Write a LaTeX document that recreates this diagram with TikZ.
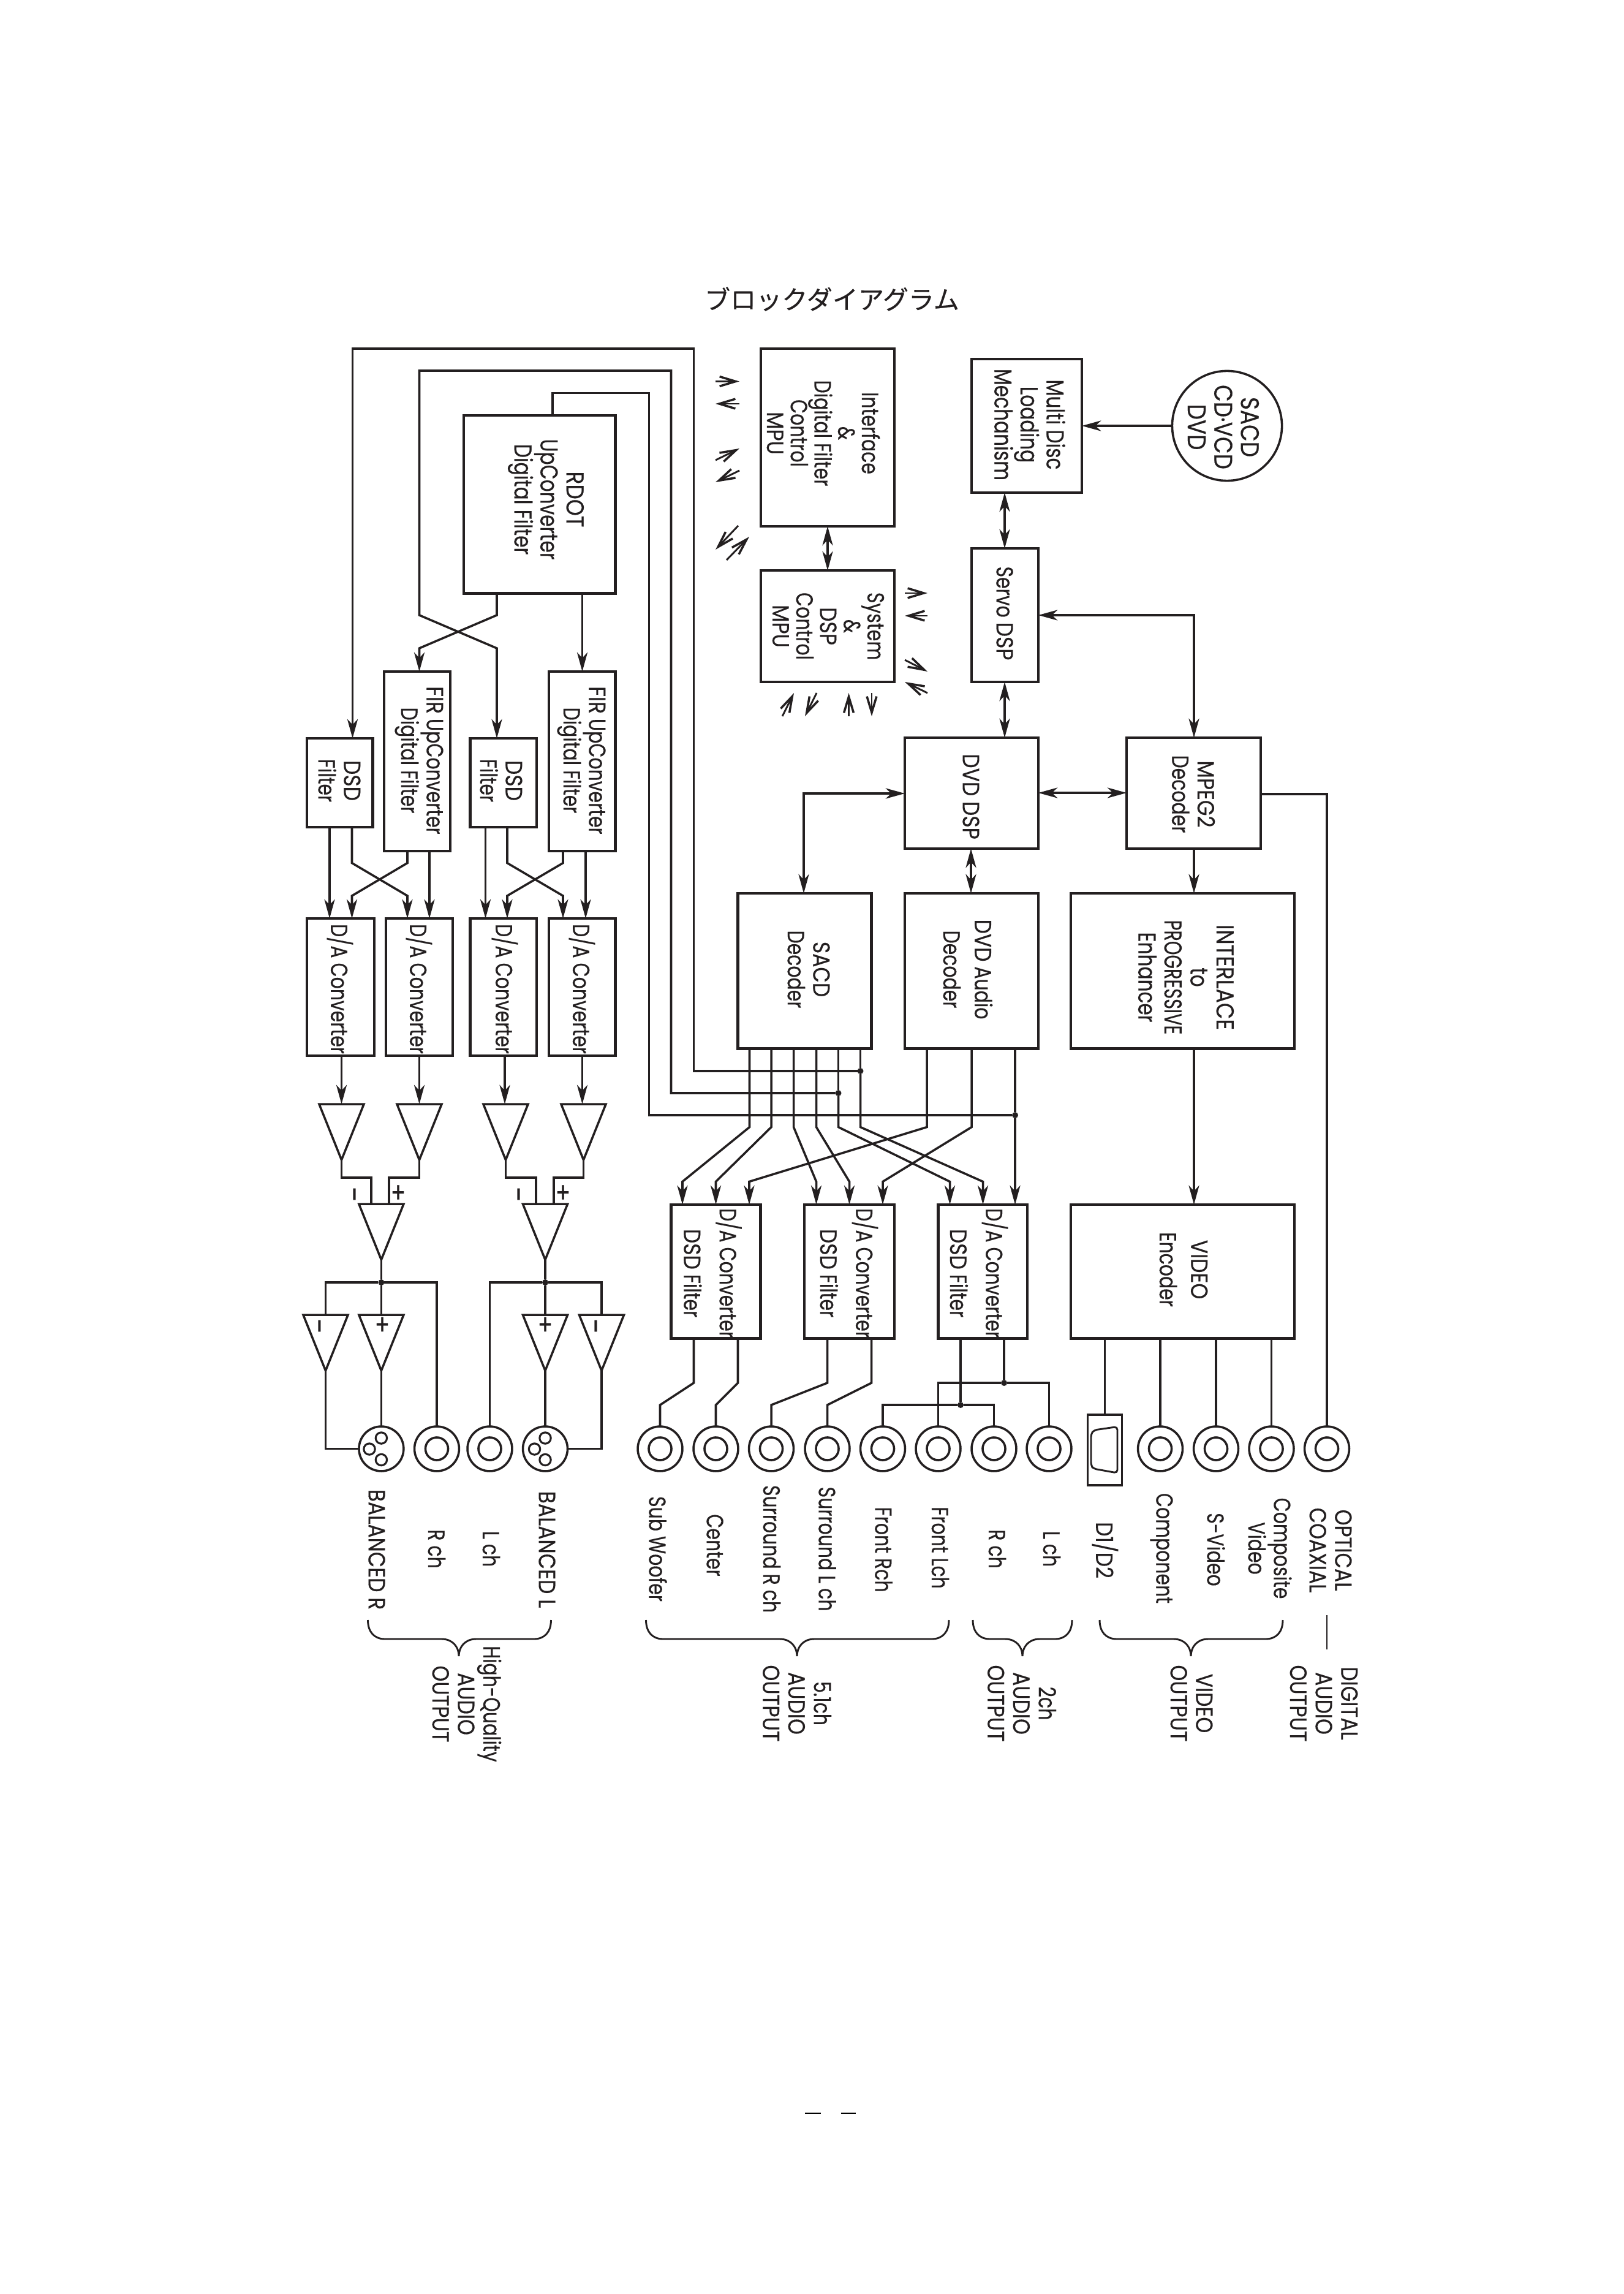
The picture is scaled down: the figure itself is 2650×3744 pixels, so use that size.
\documentclass[tikz,border=0pt]{standalone}
\usepackage{fontspec}
\setmainfont[FakeStretch=0.78,FakeBold=0.35]{Poppins}
\newfontfamily\capsf[FakeStretch=0.86,FakeBold=0.35]{Poppins}
\newfontfamily\capsn[FakeStretch=0.72,FakeBold=0.35]{Poppins}
\newfontfamily\cjk[FakeBold=0.35]{Noto Sans CJK JP}
\usetikzlibrary{arrows.meta,shapes.geometric}
\definecolor{ink}{HTML}{231F20}
\tikzset{
  wire/.style={draw=ink,line width=0.85pt,line join=miter},
  to/.style={wire,-{Stealth[length=7.5pt,width=4.1pt,inset=2.2pt]}},
  both/.style={wire,{Stealth[length=7.5pt,width=4.1pt,inset=2.2pt]}-{Stealth[length=7.5pt,width=4.1pt,inset=2.2pt]}},
  sig/.style={draw=ink,line width=0.7pt,-{Straight Barb[length=6.3pt,width=3.8pt,line width=0.85pt]}},
  boxn/.style={draw=ink,line width=1pt,rectangle,inner sep=0pt,outer sep=0pt},
  lbl/.style={text=ink,rotate=-90,align=center,inner sep=0pt,font=\fontsize{9.2}{10}\selectfont},
  lblb/.style={lbl,font=\fontsize{9.6}{10.2}\selectfont},
  lbln/.style={lbl,font=\fontsize{9.2}{9.3}\selectfont},
  lblw/.style={lbl,font=\fontsize{9.2}{12.3}\selectfont},
  lblx/.style={lbl,font=\fontsize{9.2}{14}\selectfont},
  jackn/.style={draw=ink,line width=0.85pt,circle,minimum size=17.5pt,inner sep=0pt,outer sep=0pt},
  hole/.style={draw=ink,line width=0.85pt,circle,minimum size=8.9pt,inner sep=0pt},
  pin/.style={draw=ink,line width=0.75pt,circle,minimum size=4.4pt,inner sep=0pt},
  dot/.style={fill=ink,circle,minimum size=2.4pt,inner sep=0pt,outer sep=0pt},
  ampn/.style={draw=ink,line width=0.85pt,shape=isosceles triangle,shape border rotate=-90,
    isosceles triangle stretches,minimum width=17.5pt,minimum height=21.8pt,inner sep=0pt,outer sep=0pt,anchor=apex},
  sign/.style={text=ink,inner sep=0pt,font=\fontsize{11}{11}\selectfont},
  brc/.style={draw=ink,line width=0.7pt}
}
\newcommand\bx[5]{\node[boxn,minimum width={(#4-#2)*0.24pt},minimum height={(#5-#3)*0.24pt}] (#1) at ({(#2+#4)/2},{(#3+#5)/2}) {};}
\newcommand\jk[2]{\node[jackn] (#1) at (#2,2364.5) {};\node[hole] (#1i) at (#2,2364.5) {};}
\newcommand\xlr[3]{\node[jackn] (#1) at (#2,2364.5) {};\node[pin] (#1a) at (#2,2347) {};\node[pin] (#1b) at (#3,2365) {};\node[pin] (#1c) at (#2,2382.5) {};}
\newcommand\brce[3]{\draw[brc] (#1,2644) .. controls (#1,2663) and ({#1+10},2675) .. ({#1+28},2675) -- ({#3-28},2675) .. controls ({#3-10},2675) and (#3,2688) .. (#3,2703) .. controls (#3,2688) and ({#3+10},2675) .. ({#3+28},2675) -- ({#2-28},2675) .. controls ({#2-10},2675) and (#2,2663) .. (#2,2644);}
\begin{document}
\begin{tikzpicture}[x=0.24pt,y=-0.24pt]
\useasboundingbox[fill=white] (0,0) rectangle (2650,3744);

\node[text=ink,inner sep=0pt,font=\cjk\fontsize{10.1}{10}\selectfont] (title) at (1358,488) {ブロックダイアグラム};

% boxes
\bx{iface}{1242}{569}{1460}{859}
\bx{sys}{1242}{931}{1460}{1113}
\bx{multi}{1586}{586}{1766}{804}
\bx{servo}{1586}{895}{1695}{1113}
\node[jackn,minimum size=43pt] (disc) at (2003,695) {};
\bx{dvddsp}{1477}{1204}{1695}{1385}
\bx{mpeg}{1839}{1204}{2058}{1385}
\bx{sacd}{1204.5}{1458}{1422.5}{1711.5}
\bx{dvdaud}{1477}{1458}{1695}{1711.5}
\bx{ilace}{1748}{1458}{2113}{1711.5}
\bx{venc}{1748}{1966}{2113}{2184.5}
\bx{rdot}{757}{678}{1004.5}{968.5}
\bx{firA}{627}{1096}{735}{1389}
\bx{firB}{896}{1096}{1004.5}{1389}
\bx{dsdA}{501}{1205}{608.5}{1350}
\bx{dsdB}{767.5}{1205}{876}{1350}
\bx{daA}{501}{1499}{611}{1723}
\bx{daB}{630}{1499}{739}{1723}
\bx{daC}{767.5}{1499}{876}{1723}
\bx{daD}{896}{1499}{1004.5}{1723}
\bx{mixA}{1095.5}{1966}{1241.5}{2184.5}
\bx{mixB}{1313}{1966}{1460}{2184.5}
\bx{mixC}{1531.5}{1966}{1677}{2184.5}

% box texts
\node[lbln] (tiface) at (1344,707) {Interface\\\&\\Digital Filter\\Control\\{\capsf MPU}};
\node[lbln] (tsys) at (1352,1022) {System\\\&\\{\capsf DSP}\\Control\\{\capsf MPU}};
\node[lblb] (tmulti) at (1681,693) {Multi Disc\\Loading\\Mechanism};
\node[lblb,font=\capsf\fontsize{10}{10.4}\selectfont] (tdisc) at (1997,697) {SACD\\CD·VCD\\DVD};
\node[lbl] (tservo) at (1640,1001) {Servo {\capsf DSP}};
\node[lblb] (trdot) at (891,815) {{\capsf RDOT}\\UpConverter\\Digital Filter};
\node[lbl] (tfirA) at (684,1241) {{\capsf FIR} UpConverter\\Digital Filter};
\node[lbl] (tfirB) at (949,1241) {{\capsf FIR} UpConverter\\Digital Filter};
\node[lbl] (tdsdA) at (554,1274) {{\capsf DSD}\\Filter};
\node[lbl] (tdsdB) at (818,1274) {{\capsf DSD}\\Filter};
\node[lbl] (tdaA) at (555,1614) {D/A Converter};
\node[lbl] (tdaB) at (684,1614) {D/A Converter};
\node[lbl] (tdaC) at (824,1614) {D/A Converter};
\node[lbl] (tdaD) at (950,1614) {D/A Converter};
\node[lbl] (tsacd) at (1320,1582) {{\capsf SACD}\\Decoder};
\node[lblw] (tdvdaud) at (1580,1582) {{\capsf DVD} Audio\\Decoder};
\node[lbl,font=\capsf\fontsize{9.2}{10}\selectfont] (tdvddsp) at (1585,1300) {DVD DSP};
\node[lbl] (tmpeg) at (1948,1296) {{\capsf MPEG2}\\Decoder};
\node[lblb] (tilace) at (1936,1595) {{\capsf INTERLACE}\\to\\{\capsn PROGRESSIVE}\\Enhancer};
\node[lblw] (tvenc) at (1932,2072) {{\capsf VIDEO}\\Encoder};
\node[lblx] (tmixA) at (1163.5,2078) {D/A Converter\\{\capsf DSD} Filter};
\node[lblx] (tmixB) at (1386,2078) {D/A Converter\\{\capsf DSD} Filter};
\node[lblx] (tmixC) at (1598,2078) {D/A Converter\\{\capsf DSD} Filter};

% upper connectors
\draw[to] (disc.west) -- (disc.west -| multi.east);
\draw[both] (1640,0 |- multi.south) -- (1640,0 |- servo.north);
\draw[both] (iface.south) -- (sys.north);
\draw[both] (1640,0 |- servo.south) -- (1640,0 |- dvddsp.north);
\draw[both] (servo.east |- 0,1004) -| (1949,0 |- mpeg.north);
\draw[both] (dvddsp.east |- 0,1294) -- (mpeg.west |- 0,1294);
\draw[both] (dvddsp.west |- 0,1295) -| (1312,0 |- sacd.north);
\draw[both] (1585,0 |- dvddsp.south) -- (1585,0 |- dvdaud.north);
\draw[to] (1949,0 |- mpeg.south) -- (1949,0 |- ilace.north);
\draw[to] (1949,0 |- ilace.south) -- (1949,0 |- venc.north);

% signal stubs
\coordinate (s1a) at (1168,622.5); \coordinate (s1b) at (1207,622.5);
\draw[sig] (s1a) -- (s1b);
\coordinate (s2a) at (1207,659); \coordinate (s2b) at (1168,659);
\draw[sig] (s2a) -- (s2b);
\coordinate (s3a) at (1168,751); \coordinate (s3b) at (1207,732);
\draw[sig] (s3a) -- (s3b);
\coordinate (s4a) at (1207,768); \coordinate (s4b) at (1168,787);
\draw[sig] (s4a) -- (s4b);
\coordinate (s5a) at (1205,858); \coordinate (s5b) at (1168,897);
\draw[sig] (s5a) -- (s5b);
\coordinate (s6a) at (1186,914); \coordinate (s6b) at (1223,876);
\draw[sig] (s6a) -- (s6b);
\coordinate (s7a) at (1477,968); \coordinate (s7b) at (1514,968);
\draw[sig] (s7a) -- (s7b);
\coordinate (s8a) at (1514,1005); \coordinate (s8b) at (1477,1005);
\draw[sig] (s8a) -- (s8b);
\coordinate (s9a) at (1477,1077); \coordinate (s9b) at (1514,1096);
\draw[sig] (s9a) -- (s9b);
\coordinate (s10a) at (1514,1131); \coordinate (s10b) at (1477,1113);
\draw[sig] (s10a) -- (s10b);
\coordinate (s11a) at (1277,1169); \coordinate (s11b) at (1296,1131);
\draw[sig] (s11a) -- (s11b);
\coordinate (s12a) at (1333,1131); \coordinate (s12b) at (1314,1169);
\draw[sig] (s12a) -- (s12b);
\coordinate (s13a) at (1385.5,1169); \coordinate (s13b) at (1385.5,1131);
\draw[sig] (s13a) -- (s13b);
\coordinate (s14a) at (1423,1131); \coordinate (s14b) at (1423,1169);
\draw[sig] (s14a) -- (s14b);

% dots
\node[dot] (dA) at (1404.5,1748) {};
\node[dot] (dB) at (1368.5,1784) {};
\node[dot] (dC) at (1657,1820) {};
\node[dot] (dD) at (622.4,2093) {};
\node[dot] (dE) at (890,2093) {};
\node[dot] (dF) at (1568,2293) {};
\node[dot] (dG) at (1639,2257) {};

% long feedback wires
\draw[to] (dA) -- (1132.5,1748) |- (575.5,569) -- (575.5,0 |- dsdA.north);
\draw[to] (dB) -- (1095.5,1784) |- (684.5,605) -- (684.5,1004) -- (811,1058) -- (811,0 |- dsdB.north);
\draw[wire] (dC) -- (1059.5,1820) |- (902,641.5) -- (902,0 |- rdot.north);
\draw[to] (811,0 |- rdot.south) -- (811,1004) -- (684.5,1058) -- (684.5,0 |- firA.north);
\draw[to] (950.5,0 |- rdot.south) -- (950.5,0 |- firB.north);

% filter crossing
\draw[to] (538,0 |- dsdA.south) -- (538,0 |- daA.north);
\draw[to] (574.5,0 |- dsdA.south) -- (574.5,1408.5) -- (665,1462) -- (665,0 |- daB.north);
\draw[to] (665,0 |- firA.south) -- (665,1408.5) -- (574.5,1462) -- (574.5,0 |- daA.north);
\draw[to] (701,0 |- firA.south) -- (701,0 |- daB.north);
\draw[to] (792.5,0 |- dsdB.south) -- (792.5,0 |- daC.north);
\draw[to] (828,0 |- dsdB.south) -- (828,1408.5) -- (919,1462) -- (919,0 |- daD.north);
\draw[to] (919,0 |- firB.south) -- (919,1408.5) -- (828,1462) -- (828,0 |- daC.north);
\draw[to] (956,0 |- firB.south) -- (956,0 |- daD.north);

% amplifiers
\node[ampn] (ampA) at (557.5,1893) {};
\node[ampn] (ampB) at (684.5,1893) {};
\node[ampn] (ampC) at (825.5,1893) {};
\node[ampn] (ampD) at (952.5,1893) {};
\node[ampn] (diffA) at (622.4,2056) {};
\node[ampn] (diffB) at (890,2056) {};
\node[ampn] (outA) at (531.5,2237) {};
\node[ampn] (outB) at (622.4,2237) {};
\node[ampn] (outC) at (890,2237) {};
\node[ampn] (outD) at (982,2237) {};
\draw[to] (557.5,0 |- daA.south) -- (557.5,1802);
\draw[to] (684.5,0 |- daB.south) -- (684.5,1802);
\draw[to] (824,0 |- daC.south) -- (824,1802);
\draw[to] (950.5,0 |- daD.south) -- (950.5,1802);
\draw[wire] (ampA.apex) |- (606,1922) -- (606,1965);
\draw[wire] (ampB.apex) |- (635,1922) -- (635,1965);
\draw[wire] (ampC.apex) |- (875,1922) -- (875,1965);
\draw[wire] (ampD.apex) |- (904,1922) -- (904,1965);
\draw[wire] (diffA.apex) -- (dD);
\draw[wire] (diffB.apex) -- (dE);
\draw[wire] (dD) -- (622.4,2147.5);
\draw[wire] (dE) -- (890,2147.5);
\node[sign,rotate=90] (mA) at (586,1949) {–};
\node[sign] (pA) at (650,1948.5) {+};
\node[sign,rotate=90] (mB) at (854,1949) {–};
\node[sign] (pB) at (919,1948.5) {+};
\node[sign,rotate=90] (mC) at (529,2164) {–};
\node[sign] (pC) at (624,2164) {+};
\node[sign] (pD) at (890,2164) {+};
\node[sign,rotate=90] (mD) at (980,2164) {–};

% outputs
\xlr{xlrR}{622.4}{603}
\xlr{xlrL}{890}{872.5}
\jk{jR}{713}
\jk{jL}{799.5}
\jk{j1}{1077.5}
\jk{j2}{1168.5}
\jk{j3}{1259}
\jk{j4}{1350.5}
\jk{j5}{1441}
\jk{j6}{1531.5}
\jk{j7}{1622.5}
\jk{j8}{1712.5}
\jk{j9}{1894}
\jk{j10}{1985}
\jk{j11}{2075.5}
\jk{j12}{2166}
\draw[wire] (mpeg.east |- 0,1296) -| (j12.north);
\draw[wire] (dD) -| (531.5,2147.5);
\draw[wire] (dD) -| (jR.north);
\draw[wire] (dE) -| (jL.north);
\draw[wire] (dE) -| (982,2147.5);
\draw[wire] (outA.apex) |- (xlrR.west);
\draw[wire] (outB.apex) -- (xlrR.north);
\draw[wire] (outC.apex) -- (xlrL.north);
\draw[wire] (outD.apex) |- (xlrL.east);

% decoder to D/A
\draw[wire] (1404.5,0 |- sacd.south) -- (dA);
\draw[wire] (1368.5,0 |- sacd.south) -- (dB);
\draw[wire] (1657,0 |- dvdaud.south) -- (dC);
\draw[to] (1223.5,0 |- sacd.south) -- (1223.5,1839.5) -- (1114,1928.5) -- (1114,0 |- mixA.north);
\draw[to] (1259,0 |- sacd.south) -- (1259,1839.5) -- (1168.5,1928.5) -- (1168.5,0 |- mixA.north);
\draw[to] (1295.5,0 |- sacd.south) -- (1295.5,1839.5) -- (1332.5,1928.5) -- (1332.5,0 |- mixB.north);
\draw[to] (1332.5,0 |- sacd.south) -- (1332.5,1839.5) -- (1386.5,1928.5) -- (1386.5,0 |- mixB.north);
\draw[to] (dB) -- (1368.5,1839.5) -- (1550.5,1928.5) -- (1550.5,0 |- mixC.north);
\draw[to] (dA) -- (1404.5,1839.5) -- (1604.5,1928.5) -- (1604.5,0 |- mixC.north);
\draw[to] (1513,0 |- dvdaud.south) -- (1513,1839.5) -- (1223,1928.5) -- (1223,0 |- mixA.north);
\draw[to] (1586,0 |- dvdaud.south) -- (1586,1839.5) -- (1441,1928.5) -- (1441,0 |- mixB.north);
\draw[to] (dC) -- (1657,0 |- mixC.north);

% D/A to jacks
\draw[wire] (1132.5,0 |- mixA.south) -- (1132.5,2257) -- (1077.5,2293) -- (j1.north);
\draw[wire] (1204.5,0 |- mixA.south) -- (1204.5,2257) -- (1168.5,2293) -- (j2.north);
\draw[wire] (1350.5,0 |- mixB.south) -- (1350.5,2257) -- (1259,2293) -- (j3.north);
\draw[wire] (1422.5,0 |- mixB.south) -- (1422.5,2257) -- (1350.5,2293) -- (j4.north);
\draw[wire] (1568,0 |- mixC.south) -- (dF);
\draw[wire] (1639,0 |- mixC.south) -- (dG);
\draw[wire] (dF) -| (j5.north);
\draw[wire] (dF) -| (j7.north);
\draw[wire] (dG) -| (j6.north);
\draw[wire] (dG) -| (j8.north);

% video outputs
\node[boxn,line width=.85pt,minimum width=13.4pt,minimum height=27.5pt] (dconn) at (1803.5,2366.5) {};
\draw[draw=ink,line width=0.7pt,rounded corners=1.2pt] (1824,2328.5) -- (1786,2334) -- (1781,2340) -- (1781,2392) -- (1785,2397) -- (1824,2404) -- cycle;
\draw[wire] (1803.5,0 |- venc.south) -- (dconn.north);
\draw[wire] (j9 |- venc.south) -- (j9.north);
\draw[wire] (j10 |- venc.south) -- (j10.north);
\draw[wire] (j11 |- venc.south) -- (j11.north);

% output labels
\node[lbl,font=\capsf\fontsize{9.2}{10}\selectfont] (lbR) at (615,2529) {BALANCED R};
\node[lbl] (lrc) at (713,2528) {R ch};
\node[lbl] (llc) at (802,2528) {L ch};
\node[lbl,font=\capsf\fontsize{9.2}{10}\selectfont] (lbL) at (893,2529) {BALANCED L};
\node[lbl] (lsw) at (1074,2528) {Sub Woofer};
\node[lbl] (lcn) at (1167,2522) {Center};
\node[lbl] (lsr) at (1260,2528) {Surround R ch};
\node[lbl] (lsl) at (1350.5,2528) {Surround L ch};
\node[lbl] (lfr) at (1442.5,2529) {Front Rch};
\node[lbl] (lfl) at (1535,2526) {Front Lch};
\node[lbl] (lrc2) at (1628,2528) {R ch};
\node[lbl] (llc2) at (1717,2528) {L ch};
\node[lbl,font=\capsf\fontsize{9.2}{10}\selectfont] (ld1) at (1804,2530) {D1/D2};
\node[lbl] (lcomp) at (1896,2527) {Component};
\node[lbl] (lsv) at (1985,2529) {S-Video};
\node[lbl] (lcv) at (2073,2527) {Composite\\Video};
\node[lbl,font=\capsf\fontsize{9.2}{10}\selectfont] (lop) at (2172,2530) {OPTICAL\\COAXIAL};

\brce{600.5}{899.5}{749}
\brce{1054.5}{1549}{1301}
\brce{1588}{1750}{1669}
\brce{1795}{2094}{1944}
\coordinate (dla) at (2166,2636); \coordinate (dlb) at (2166,2692);
\draw[brc] (dla) -- (dlb);

\node[lbl] (lhq) at (762,2781) {High-Quality\\{\capsf AUDIO}\\{\capsf OUTPUT}};
\node[lbl] (l51) at (1301,2780) {5.1ch\\{\capsf AUDIO}\\{\capsf OUTPUT}};
\node[lbl] (l2c) at (1668,2780) {2ch\\{\capsf AUDIO}\\{\capsf OUTPUT}};
\node[lbl,font=\capsf\fontsize{9.2}{10}\selectfont] (lvo) at (1945,2780) {VIDEO\\OUTPUT};
\node[lbl,font=\capsf\fontsize{9.2}{10}\selectfont] (ldo) at (2161,2780) {DIGITAL\\AUDIO\\OUTPUT};

\coordinate (fa) at (1314,3449); \coordinate (fb) at (1340,3449);
\coordinate (fc) at (1373,3449); \coordinate (fd) at (1397,3449);
\draw[line width=0.5pt] (fa) -- (fb);
\draw[line width=0.5pt] (fc) -- (fd);
\end{tikzpicture}
\end{document}
